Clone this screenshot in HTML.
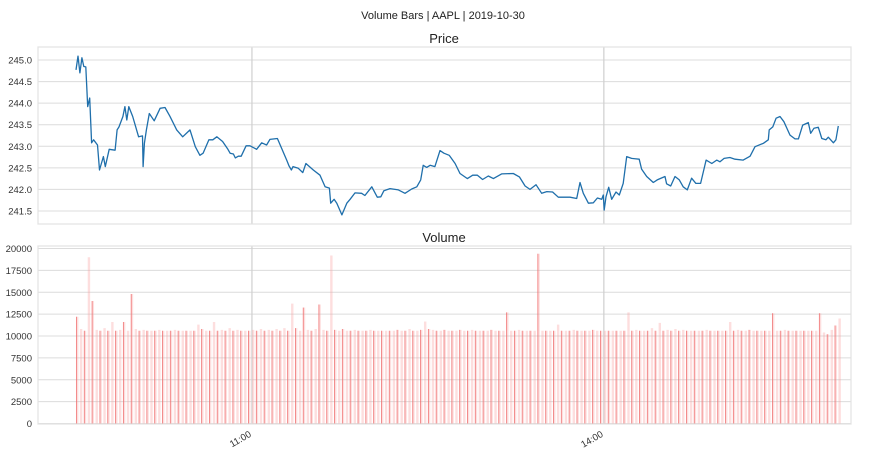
<!DOCTYPE html>
<html><head><meta charset="utf-8"><style>
html,body{margin:0;padding:0;background:#fff;}
svg{display:block;font-family:"Liberation Sans",sans-serif;}
</style></head><body>
<svg id="chart" width="886" height="472">
<text x="443" y="19" text-anchor="middle" font-size="11" fill="#222">Volume Bars | AAPL | 2019-10-30</text>
<text x="444" y="43" text-anchor="middle" font-size="13" fill="#222">Price</text>
<text x="444" y="242" text-anchor="middle" font-size="13" fill="#222">Volume</text>
<g id="priceAx"></g>
<g id="volAx"></g>
</svg>
<script>
const priceTimes=[0,1,2,3,4,5,6,7,8,9,11,12,14,15,17,20,21,22,24,25,26,27,29,31,32,34,34.3,35,36,37.5,40,43,45.5,48,51.5,54.6,58.3,61,63.4,65,68,70,72,75,77.7,78.8,80.5,81.5,83,84.5,87,89,92.4,95,97.5,99.2,103,107.8,109,110.2,111,113.7,116,117.6,121.4,124.8,127.4,129.6,130.3,132,133.4,136,138.5,140.2,142.7,146.1,147.8,151.3,154.1,155.9,157.5,160.6,164.9,168.3,171.7,174.3,176.3,177.6,179.4,181.1,183.6,186.2,188.2,190.9,193.9,196.4,200.2,202.9,205.3,208,210.9,213.5,217.7,223.7,226.8,229.7,232.2,235.3,238.2,240.8,243.8,246.7,252.7,256.1,257.8,259.5,262.1,264.6,266.7,268.9,269.7,270.2,271.1,272.5,274,276.2,277.9,279.9,281.7,284.2,288.1,289.3,291.9,295.3,297.3,301.3,302.1,304.2,306.4,308.6,310.6,312.7,314.9,317.1,319.5,322.3,325.2,327.7,329.4,331.5,334.5,337.1,341.3,344.8,347.3,351.6,354.1,354.6,356.4,358.1,360.1,362.1,365.2,367.8,369.5,371.7,374.6,375.8,377.5,379.7,381.5,383.6,384.8,387.4,388.7,389.9];
const priceValues=[244.77,245.09,244.70,245.05,244.85,244.84,243.92,244.12,243.08,243.15,243.03,242.45,242.76,242.53,242.93,242.91,243.38,243.45,243.69,243.92,243.61,243.92,243.69,243.38,243.22,243.24,242.53,243.07,243.38,243.76,243.59,243.88,243.90,243.70,243.38,243.22,243.38,242.99,242.79,242.84,243.15,243.15,243.22,243.11,242.93,242.84,242.82,242.73,242.77,242.77,243.01,243.01,242.93,243.08,243.03,243.16,243.18,242.68,242.54,242.45,242.53,242.49,242.39,242.60,242.45,242.33,242.06,242.03,241.68,241.77,241.68,241.41,241.68,241.77,241.92,241.91,241.86,242.06,241.82,241.83,241.97,242.02,241.99,241.91,242.01,242.06,242.22,242.56,242.51,242.56,242.53,242.90,242.84,242.79,242.60,242.37,242.25,242.33,242.33,242.23,242.31,242.25,242.36,242.37,242.29,242.08,242.00,242.11,241.91,241.95,241.94,241.82,241.82,241.79,242.16,241.91,241.68,241.69,241.80,241.77,241.87,241.52,241.83,242.05,241.77,241.94,241.87,242.14,242.76,242.72,242.70,242.47,242.30,242.16,242.22,242.30,242.13,242.08,242.30,242.22,242.06,241.99,242.26,242.14,242.14,242.68,242.60,242.68,242.64,242.72,242.74,242.70,242.68,242.77,242.99,243.07,243.15,243.38,243.45,243.65,243.69,243.57,243.26,243.17,243.17,243.49,243.55,243.30,243.42,243.44,243.18,243.15,243.21,243.08,243.15,243.47];
const priceTicks=[241.5,242.0,242.5,243.0,243.5,244.0,244.5,245.0];
const volTimes=[0,2,4,6,8,10,12,14,16,18,20,22,24,26,28,30,32,34,36,38,40,42,44,46,48,50,52,54,56,58,60,62,64,66,68,70,72,74,76,78,80,82,84,86,88,90,92,94,96,98,100,102,104,106,108,110,112,114,116,118,120,122,124,126,128,130,132,134,136,138,140,142,144,146,148,150,152,154,156,158,160,162,164,166,168,170,172,174,176,178,180,182,184,186,188,190,192,194,196,198,200,202,204,206,208,210,212,214,216,218,220,222,224,226,228,230,232,234,236,238,240,242,244,246,248,250,252,254,256,258,260,262,264,266,268,270,272,274,276,278,280,282,284,286,288,290,292,294,296,298,300,302,304,306,308,310,312,314,316,318,320,322,324,326,328,330,332,334,336,338,340,342,344,346,348,350,352,354,356,358,360,362,364,366,368,370,372,374,376,378,380,382,384,386,388,390];
const volValues=[12200,10800,10600,19000,14000,10700,10600,10900,10600,11600,
10600,10700,11600,10600,14800,10800,10600,10700,10600,10600,
10600,10700,10600,10600,10600,10700,10600,10600,10600,10600,
10600,11300,10800,10600,10600,11600,10600,10700,10600,10900,
10600,10700,10600,10600,10600,10700,10600,10800,10600,10700,
10600,10800,10600,10900,10600,13700,10900,10600,13250,10700,
10600,10800,13600,10700,10600,19200,10700,10600,10800,10600,
10600,10700,10600,10600,10600,10700,10600,10600,10600,10600,
10600,10600,10700,10600,10600,10800,10600,10600,10700,11650,
10800,10700,10600,10600,10700,10600,10600,10600,10700,10600,
10600,10700,10600,10600,10600,10600,10700,10600,10600,10600,
12700,10600,10600,10700,10600,10600,10600,10600,19400,10600,
10600,10600,10600,11300,10600,10600,10600,10700,10600,10600,
10600,10600,10700,10600,10600,10600,10600,10600,10600,10600,
10600,12700,10600,10700,10600,10600,10600,10900,10600,11500,
10600,10700,10600,10800,10600,10700,10600,10600,10600,10600,
10600,10700,10600,10600,10600,10600,10600,11600,10600,10700,
10600,10600,10700,10600,10600,10600,10600,10600,12600,10600,
10600,10700,10600,10600,10600,10600,10600,10600,10600,10600,
12600,10400,10200,10700,11200,12000];
const volTicks=[0,2500,5000,7500,10000,12500,15000,17500,20000];
const xTickTimes=[90,270];
const xTickLabels=["11:00","14:00"];

const NS="http://www.w3.org/2000/svg";
const L=38,R=851;
const P={top:47,bottom:224}, V={top:246,bottom:424};
const xS=t=>76+t*1.955;
const yP=p=>60+(245-p)*43.14;
const yV=v=>423.5-v/20000*175;
function mk(tag,attrs,parent){const e=document.createElementNS(NS,tag);for(const k in attrs)e.setAttribute(k,attrs[k]);parent.appendChild(e);return e;}

function frame(g,box,ticks,yf,fmt,nm){
  ticks.forEach(t=>{
    const y=yf(t);
    const ln=mk('line',{x1:L,x2:R,y1:y,y2:y,stroke:'#dcdcdc','stroke-width':1},g);
    
    
    const tx=mk('text',{x:L-6,y:y+3.5,'text-anchor':'end','font-size':9.5,fill:'#333'},g);
    tx.textContent=fmt(t);
    
    
  });
  xTickTimes.forEach(t=>{
    const vl=mk('line',{x1:xS(t),x2:xS(t),y1:box.top,y2:box.bottom,stroke:'#cfcfcf','stroke-width':1.2},g);
    
    
  });
  const fr=mk('rect',{x:L,y:box.top,width:R-L,height:box.bottom-box.top,fill:'none',stroke:'#e2e2e2','stroke-width':1.2},g);
  
  
}
const pg=document.getElementById('priceAx');
frame(pg,P,priceTicks,yP,t=>t.toFixed(1),'price');
const pts=priceTimes.map((t,i)=>xS(t).toFixed(1)+','+yP(priceValues[i]).toFixed(1)).join(' ');
const pl=mk('polyline',{points:pts,fill:'none',stroke:'#1f6fab','stroke-width':1.3,'stroke-linejoin':'round'},pg);



const vg=document.getElementById('volAx');
frame(vg,V,volTicks,yV,t=>String(t),'volume');
volTimes.forEach((t,i)=>{
  const v=volValues[i];
  const x=xS(t);
  const light=mk('rect',{x:x,y:yV(v),width:2.4,height:yV(0)-yV(v),fill:'rgba(250,160,160,0.35)'},vg);
  
  
  if(i%2===0){
    const dk=mk('line',{x1:x+0.5,x2:x+0.5,y1:yV(v),y2:yV(0),stroke:'rgba(238,100,100,0.75)','stroke-width':0.9},vg);
    
    
  }
});
xTickTimes.forEach((t,i)=>{
  const x=xS(t);
  const tx=mk('text',{x:x,y:436,'text-anchor':'end','font-size':9.5,fill:'#333',transform:`rotate(-30 ${x} 436)`},vg);
  tx.textContent=xTickLabels[i];
  
  
});
</script>
</body></html>
